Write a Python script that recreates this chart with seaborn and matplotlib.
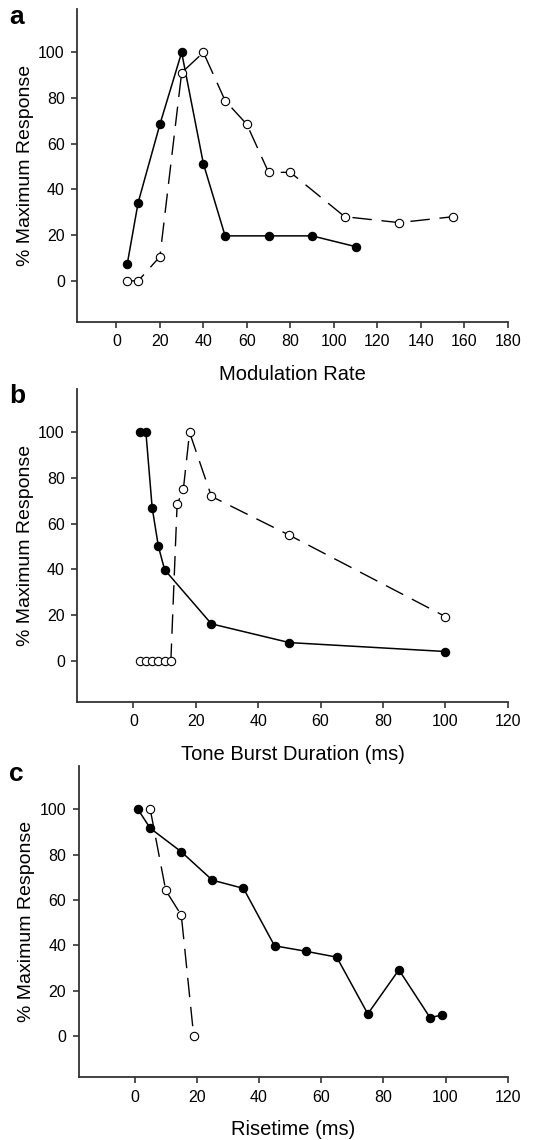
import matplotlib
matplotlib.use("Agg")
import matplotlib.pyplot as plt
import seaborn as sns
import pandas as pd

sns.set_theme(style="ticks")
plt.rcParams['font.family'] = ['Liberation Sans', 'DejaVu Sans']
plt.rcParams['text.color'] = 'black'
plt.rcParams['axes.labelcolor'] = 'black'

# Panel a: Modulation Rate
a_filled_x = [5, 10, 20, 30, 40, 50, 70, 90, 110]
a_filled_y = [7.5, 34.3, 68.5, 100, 51.3, 19.7, 19.7, 19.7, 15.0]
a_open_x = [5, 10, 20, 30, 40, 50, 60, 70, 80, 105, 130, 155]
a_open_y = [0, 0, 10.6, 91.1, 100, 78.9, 68.5, 47.5, 47.5, 28.1, 25.5, 28.1]

# Panel b: Tone Burst Duration (ms)
b_filled_x = [2, 4, 6, 8, 10, 25, 50, 100]
b_filled_y = [100, 100, 67.1, 50.1, 39.9, 16.2, 8.0, 4.1]
b_open_x = [2, 4, 6, 8, 10, 12, 14, 16, 18, 25, 50, 100]
b_open_y = [0, 0, 0, 0, 0, 0, 68.5, 75.1, 100, 72.0, 55.0, 19.4]

# Panel c: Risetime (ms)
c_filled_x = [1, 5, 15, 25, 35, 45, 55, 65, 75, 85, 95, 99]
c_filled_y = [100, 91.6, 81.2, 68.7, 65.1, 39.8, 37.4, 34.8, 9.8, 29.2, 8.2, 9.3]
c_open_x = [5, 10, 15, 19]
c_open_y = [100, 64.2, 53.3, 0]

panels = [
    ("a", "Modulation Rate", a_filled_x, a_filled_y, a_open_x, a_open_y,
     list(range(0, 181, 20)), (-18, 180)),
    ("b", "Tone Burst Duration (ms)", b_filled_x, b_filled_y, b_open_x, b_open_y,
     list(range(0, 121, 20)), (-18, 120)),
    ("c", "Risetime (ms)", c_filled_x, c_filled_y, c_open_x, c_open_y,
     list(range(0, 121, 20)), (-18, 120)),
]

W, H = 542, 1140
fig = plt.figure(figsize=(W / 100, H / 100), dpi=100)

rects = [
    (77.3, 9, 507.7, 322),
    (77.3, 389, 507.7, 702),
    (78.7, 766, 507.7, 1077),
]
letter_pos = [(9, 24), (9, 403), (9, 781)]

for (letter, xlabel, fx, fy, ox, oy, xticks, xlim), (l, t, r, b), (lx, ly) in zip(panels, rects, letter_pos):
    ax = fig.add_axes([l / W, 1 - b / H, (r - l) / W, (b - t) / H])
    df_f = pd.DataFrame({"x": fx, "y": fy})
    df_o = pd.DataFrame({"x": ox, "y": oy})
    sns.lineplot(data=df_f, x="x", y="y", ax=ax, color="black", lw=1.1,
                 marker="o", markersize=6, markerfacecolor="black",
                 markeredgecolor="black", markeredgewidth=0.8,
                 errorbar=None, sort=False, zorder=2)
    sns.lineplot(data=df_o, x="x", y="y", ax=ax, color="black", lw=1.0,
                 linestyle=(0, (14, 7)),
                 marker="o", markersize=6, markerfacecolor="white",
                 markeredgecolor="black", markeredgewidth=0.8,
                 errorbar=None, sort=False, zorder=3)
    ax.set_xlim(*xlim)
    ax.set_ylim(-18, 119)
    ax.set_xticks(xticks)
    ax.set_yticks([0, 20, 40, 60, 80, 100])
    ax.tick_params(axis="both", direction="out", length=4, width=1.1,
                   colors="#222222", labelsize=11.5, pad=5, labelcolor="black")
    for s in ["top", "right"]:
        ax.spines[s].set_visible(False)
    for s in ["left", "bottom"]:
        ax.spines[s].set_linewidth(1.3)
        ax.spines[s].set_color("#333333")
    ax.set_xlabel(xlabel, fontsize=14.5, labelpad=11, color="black")
    ax.set_ylabel("% Maximum Response", fontsize=14, labelpad=3, color="black")
    ax.set_facecolor("white")
    fig.text(lx / W, 1 - ly / H, letter, fontsize=19, fontweight="bold",
             ha="left", va="baseline", color="black")

fig.savefig("out.png", dpi=100, facecolor="white")
